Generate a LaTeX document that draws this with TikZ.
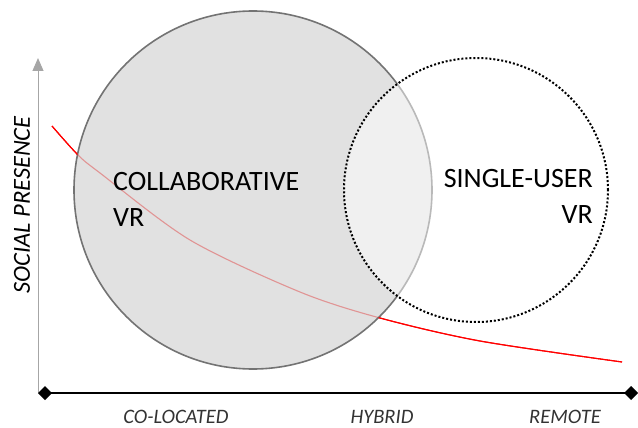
\documentclass[tikz,border=0pt]{standalone}
\usepackage{fontspec}
\setmainfont{Carlito}
\usetikzlibrary{arrows.meta}

\begin{document}
\begin{tikzpicture}[x=1pt,y=-1pt,
    big circle/.style={circle,draw=black!55,line width=1.6pt,fill=black!17,
                       fill opacity=0.7,minimum size=358pt,inner sep=0pt},
    small circle/.style={circle,draw=black,line width=2pt,dotted,fill=white,
                         fill opacity=0.5,minimum size=264pt,inner sep=0pt},
    big label/.style={font=\fontsize{28}{36}\selectfont,inner sep=0pt},
    axis label/.style={font=\fontsize{20.5}{24}\selectfont\itshape,inner sep=0pt,
                       text=black!80,anchor=base},
    presence curve/.style={red,line width=1.1pt}]
  \useasboundingbox (0,0) rectangle (638,428);
  % axes
  \coordinate (origin) at (38,393);
  \coordinate (top) at (38,58);
  \coordinate (far) at (638,393);
  \draw[black!35,line width=1pt,-{Triangle[length=13pt,width=11pt]}] (origin) -- (top);
  \draw[line width=2.2pt,{Diamond[length=14pt,width=14pt]}-{Diamond[length=14pt,width=14pt]}]
    (origin) -- (far);
  % social presence over distance
  \def\presence{(52,126) (78,155) (100,173) (190,240) (300,292) (380,318) (480,341) (622,362)}
  \draw[presence curve] plot[smooth] coordinates {\presence};
  % the two kinds of VR
  \node[big circle] (collab) at (253,190) {};
  \node[small circle] (single) at (476,190) {};
  \begin{scope}[even odd rule]
    \clip (0,0) rectangle (638,428) (collab.center) circle (179pt);
    \draw[presence curve] plot[smooth] coordinates {\presence};
  \end{scope}
  \node[big label,align=left,anchor=north west] (collab text) at (113,172) {COLLABORATIVE\\VR};
  \node[big label,align=right,anchor=north east] (single text) at (593,169) {SINGLE-USER\\VR};
  % axis texts
  \node[font=\fontsize{24.5}{28}\selectfont\itshape,inner sep=0pt,rotate=90] (presence) at (22,205) {SOCIAL PRESENCE};
  \node[axis label] (colocated) at (176,423) {CO-LOCATED};
  \node[axis label] (hybrid) at (382,423) {HYBRID};
  \node[axis label] (remote) at (565,423) {REMOTE};
\end{tikzpicture}
\end{document}
